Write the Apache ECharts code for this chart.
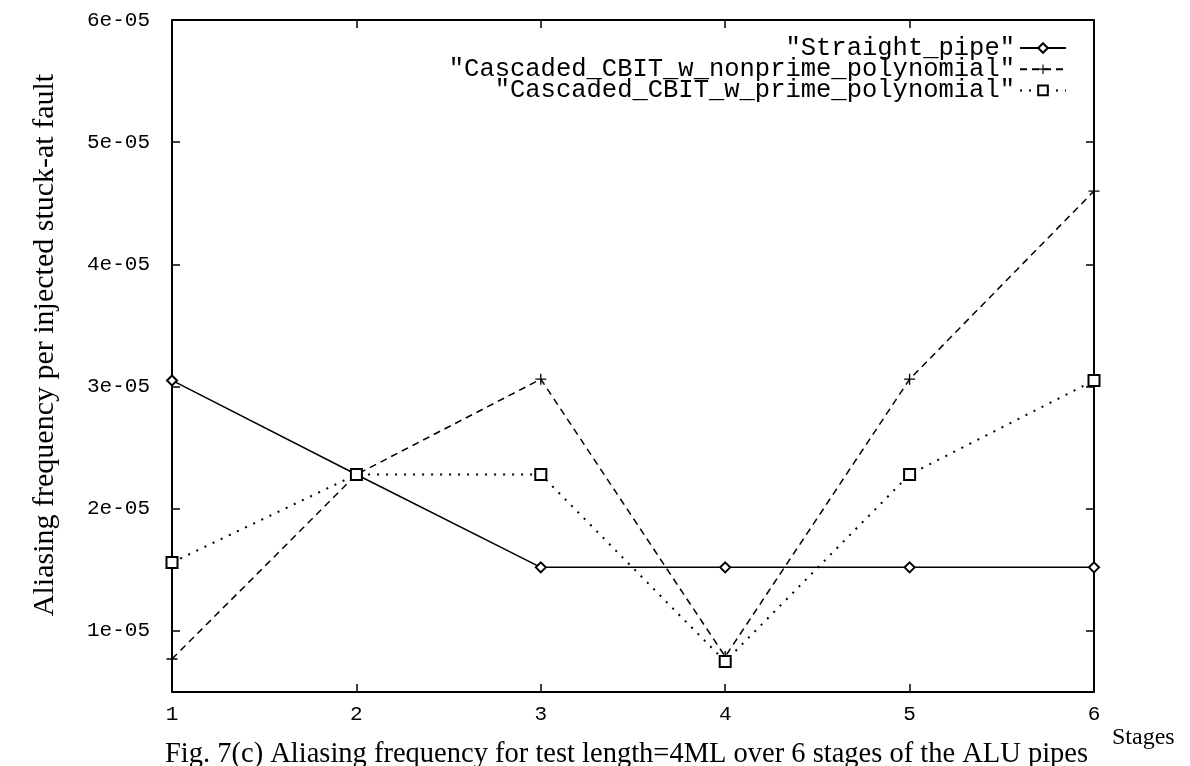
<!DOCTYPE html>
<html>
<head>
<meta charset="utf-8">
<script src="https://cdn.jsdelivr.net/npm/echarts@6/dist/echarts.min.js"></script>
<style>
html,body{margin:0;padding:0;background:#fff;}
#chart{width:1190px;height:766px;}
</style>
</head>
<body>
<div id="chart"></div>
<script>
// ---- data ----
const stages = [1, 2, 3, 4, 5, 6];
const straightPipe = [3.05e-5, 2.28e-5, 1.52e-5, 1.52e-5, 1.52e-5, 1.52e-5];
const nonprimePoly = [7.7e-6, 2.28e-5, 3.06e-5, 7.9e-6, 3.06e-5, 4.6e-5];
const primePoly = [1.56e-5, 2.28e-5, 2.28e-5, 7.5e-6, 2.28e-5, 3.05e-5];
const seriesNames = ['"Straight_pipe"', '"Cascaded_CBIT_w_nonprime_polynomial"', '"Cascaded_CBIT_w_prime_polynomial"'];
const yTicks = [1e-5, 2e-5, 3e-5, 4e-5, 5e-5, 6e-5];
const yTitle = 'Aliasing frequency per injected stuck-at fault';
const xTitle = 'Stages';
const caption = 'Fig. 7(c) Aliasing frequency for test length=4ML over 6 stages of the ALU pipes';

const pair = arr => stages.map((s, i) => [s, arr[i]]);
const mono = 'Liberation Mono';
const serif = 'Liberation Serif';
const plusPath = 'path://M4.4,0h1.2v10h-1.2z M0,4.4h10v1.2h-10z';

const chart = echarts.init(document.getElementById('chart'));
const axisLine = {show: true, lineStyle: {color: '#000', width: 2}};
const tick = {show: true, inside: true, length: 8, lineStyle: {color: '#000', width: 1.5}};

chart.setOption({
  backgroundColor: '#fff',
  animation: false,
  title: {
    text: caption,
    left: 160, top: 735,
    textStyle: {fontFamily: serif, fontSize: 28.5, fontWeight: 'normal', color: '#000'}
  },
  grid: {left: 172, right: 96, top: 20, bottom: 74, outerBoundsMode: 'none'},
  legend: {
    orient: 'vertical', right: 118, top: 30, align: 'right',
    itemWidth: 46, itemHeight: 12, itemGap: -4.8,
    textStyle: {fontFamily: mono, fontSize: 25.5, color: '#000'},
    data: seriesNames
  },
  xAxis: [{
    type: 'value', min: 1, max: 6, interval: 1, position: 'bottom',
    name: xTitle, nameLocation: 'end', nameGap: 18,
    nameTextStyle: {fontFamily: serif, fontSize: 24, color: '#000', align: 'left', verticalAlign: 'top', padding: [34, 0, 0, 0]},
    axisLine, axisTick: tick, splitLine: {show: false},
    axisLabel: {fontFamily: mono, fontSize: 21, color: '#000', margin: 12}
  }, {
    type: 'value', min: 1, max: 6, interval: 1, position: 'top',
    axisLine, axisTick: tick, splitLine: {show: false}, axisLabel: {show: false}
  }],
  yAxis: [{
    type: 'value', min: 5e-6, max: 6e-5, position: 'left',
    name: yTitle, nameLocation: 'middle', nameGap: 112, nameRotate: 90,
    nameTextStyle: {fontFamily: serif, fontSize: 30, color: '#000', padding: [0, 0, 0, 22]},
    axisLine, splitLine: {show: false},
    axisTick: Object.assign({customValues: yTicks}, tick),
    axisLabel: {customValues: yTicks, fontFamily: mono, fontSize: 21, color: '#000', margin: 22,
      formatter: v => Math.round(v / 1e-5) + 'e-05'}
  }, {
    type: 'value', min: 5e-6, max: 6e-5, position: 'right',
    axisLine, splitLine: {show: false},
    axisTick: Object.assign({customValues: yTicks}, tick),
    axisLabel: {show: false}
  }],
  series: [{
    name: seriesNames[0], type: 'line', data: pair(straightPipe),
    symbol: 'emptyDiamond', symbolSize: 10,
    lineStyle: {color: '#000', width: 1.5, type: 'solid'},
    itemStyle: {color: '#000', borderWidth: 1.5}
  }, {
    name: seriesNames[1], type: 'line', data: pair(nonprimePoly),
    symbol: plusPath, symbolSize: 11,
    lineStyle: {color: '#000', width: 1.5, type: [7, 5]},
    itemStyle: {color: '#000'}
  }, {
    name: seriesNames[2], type: 'line', data: pair(primePoly),
    symbol: 'emptyRect', symbolSize: 11,
    lineStyle: {color: '#000', width: 2, type: [2, 7]},
    itemStyle: {color: '#000', borderWidth: 1.5}
  }]
});
</script>
</body>
</html>
